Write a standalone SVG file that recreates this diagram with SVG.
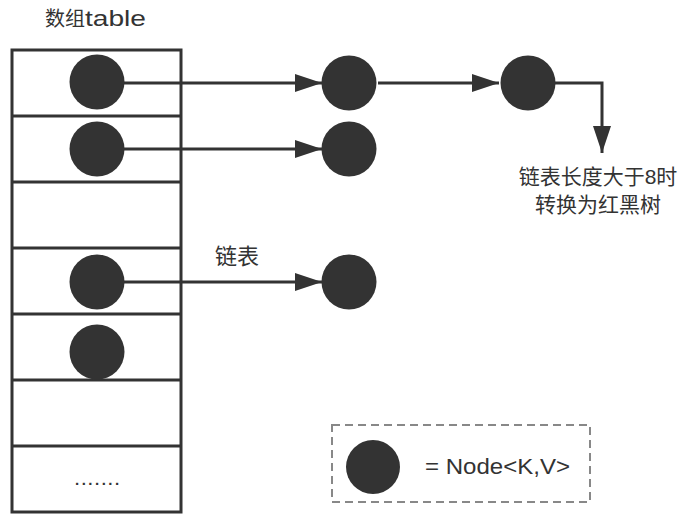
<svg xmlns="http://www.w3.org/2000/svg" width="683" height="519" viewBox="0 0 683 519">
<style>
.line{stroke:#333;stroke-width:3;fill:none}
.node{fill:#333}
.txt{font-family:"Liberation Sans","Noto Sans CJK SC",sans-serif;fill:#333}
</style>
<defs>
<marker id="arr" markerWidth="27" markerHeight="18" refX="27" refY="9" orient="auto" markerUnits="userSpaceOnUse">
<polygon points="0,0 27,9 0,18" fill="#333"/>
</marker>
</defs>
<rect width="683" height="519" fill="#fff"/>
<g id="title"><text class="txt" x="45" y="26" font-size="20">数组<tspan font-size="22" textLength="61" lengthAdjust="spacingAndGlyphs">table</tspan></text></g>
<g id="table">
<rect class="line" x="12" y="50" width="169" height="462"/>
<line class="line" x1="12" y1="116" x2="181" y2="116"/>
<line class="line" x1="12" y1="182" x2="181" y2="182"/>
<line class="line" x1="12" y1="248" x2="181" y2="248"/>
<line class="line" x1="12" y1="314" x2="181" y2="314"/>
<line class="line" x1="12" y1="380" x2="181" y2="380"/>
<line class="line" x1="12" y1="446" x2="181" y2="446"/>
<text class="txt" x="75" y="485" font-size="15" font-weight="bold" letter-spacing="2.5">.......</text>
</g>
<g id="connectors">
<line class="line" x1="124" y1="83" x2="322" y2="83" marker-end="url(#arr)"/>
<line class="line" x1="378" y1="83" x2="499" y2="83" marker-end="url(#arr)"/>
<polyline class="line" points="555,83 602,83 602,153" marker-end="url(#arr)"/>
<line class="line" x1="124" y1="149" x2="322" y2="149" marker-end="url(#arr)"/>
<line class="line" x1="124" y1="282" x2="322" y2="282" marker-end="url(#arr)"/>
</g>
<g id="n1"><circle class="node" cx="97" cy="82" r="27.5"/></g>
<g id="n2"><circle class="node" cx="97" cy="149" r="27.5"/></g>
<g id="n3"><circle class="node" cx="97" cy="282" r="27.5"/></g>
<g id="n4"><circle class="node" cx="97" cy="352" r="27.5"/></g>
<g id="c1"><circle class="node" cx="349" cy="83" r="27.5"/></g>
<g id="c2"><circle class="node" cx="528" cy="83" r="27.5"/></g>
<g id="c3"><circle class="node" cx="349" cy="149" r="27.5"/></g>
<g id="c4"><circle class="node" cx="349" cy="282" r="27.5"/></g>
<g id="label-list"><text class="txt" x="237" y="264" font-size="22" text-anchor="middle">链表</text></g>
<g id="label-tree">
<text class="txt" x="598" y="184" font-size="21" text-anchor="middle">链表长度大于8时</text>
<text class="txt" x="598" y="212" font-size="21" text-anchor="middle">转换为红黑树</text>
</g>
<g id="legend">
<rect x="332" y="425" width="258" height="77" fill="none" stroke="#888" stroke-width="2" stroke-dasharray="8,5"/>
<circle class="node" cx="373" cy="467" r="27"/>
<text class="txt" x="425" y="474" font-size="22" textLength="145" lengthAdjust="spacingAndGlyphs">= Node&lt;K,V&gt;</text>
</g>
</svg>
